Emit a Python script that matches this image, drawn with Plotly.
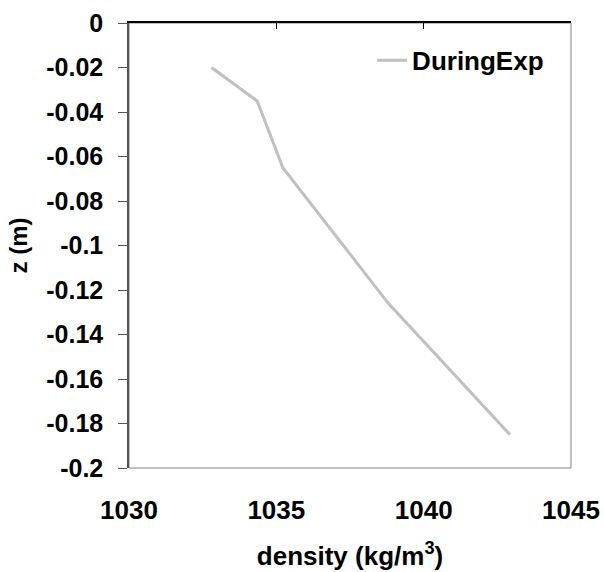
import plotly.graph_objects as go

density = [1032.8, 1034.35, 1035.22, 1038.8, 1042.93]
z = [-0.020, -0.035, -0.065, -0.126, -0.185]
series_name = "DuringExp"

x_ticks = [1030, 1035, 1040, 1045]
x_tick_labels = ["1030", "1035", "1040", "1045"]
y_ticks = [0, -0.02, -0.04, -0.06, -0.08, -0.1, -0.12, -0.14, -0.16, -0.18, -0.2]
y_tick_labels = ["0", "-0.02", "-0.04", "-0.06", "-0.08", "-0.1", "-0.12", "-0.14", "-0.16", "-0.18", "-0.2"]

FONT = "Liberation Sans, Arial, sans-serif"

def bold(size):
    return dict(family=FONT, size=size, color="black", weight="bold")

fig = go.Figure()
fig.add_trace(go.Scatter(
    x=density, y=z, mode="lines", name=series_name,
    line=dict(color="#C0C0C0", width=3),
))
# invisible trace to anchor top axis
fig.add_trace(go.Scatter(
    x=[x_ticks[0]], y=[0], xaxis="x2", mode="markers",
    marker=dict(opacity=0), showlegend=False, hoverinfo="skip",
))

fig.update_layout(
    width=604, height=572,
    margin=dict(l=129, r=33, t=23, b=104, autoexpand=False),
    paper_bgcolor="white", plot_bgcolor="white",
    font=bold(24),
    showlegend=True,
    legend=dict(
        x=0.55, y=0.969, xanchor="left", yanchor="top",
        bgcolor="rgba(0,0,0,0)", font=bold(26),
        itemwidth=30,
    ),
    xaxis=dict(
        range=[1030, 1045], tickvals=x_ticks, ticktext=x_tick_labels,
        ticks="", showgrid=False, zeroline=False, showline=False,
        tickfont=bold(26), automargin=False,
        ticklabelstandoff=24,
        title=dict(text="density (kg/m<sup>3</sup>)", font=bold(26), standoff=22),
    ),
    xaxis2=dict(
        range=[1030, 1045], overlaying="x", side="top",
        tickvals=x_ticks, showticklabels=False,
        ticks="inside", ticklen=6, tickcolor="black", tickwidth=1,
        showline=True, linecolor="black", linewidth=1.5,
        showgrid=False, zeroline=False, automargin=False,
    ),
    yaxis=dict(
        range=[-0.2, 0], tickvals=y_ticks, ticktext=y_tick_labels,
        ticks="outside", ticklen=9, tickcolor="#555555", tickwidth=1,
        showline=True, linecolor="#555555", linewidth=1.5,
        showgrid=False, zeroline=False, automargin=False,
        tickfont=bold(25),
        ticklabelstandoff=10,
        title=dict(text="z (m)", font=bold(24), standoff=12),
    ),
    shapes=[dict(type="rect", xref="paper", yref="paper", x0=0, y0=0, x1=1, y1=1,
                 line=dict(color="#808080", width=1), layer="below")],
)

fig.write_html("out.html")
